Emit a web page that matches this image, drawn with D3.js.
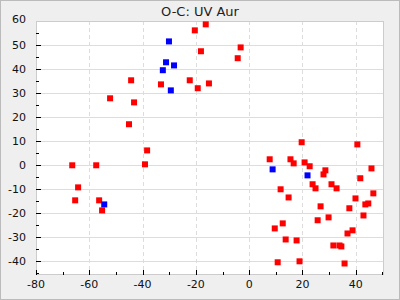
<!DOCTYPE html>
<html>
<head>
<meta charset="utf-8">
<script src="https://cdn.jsdelivr.net/npm/d3@7"></script>
<style>
  html, body { margin: 0; padding: 0; background: #efefef; }
  svg { display: block; font-family: "DejaVu Sans", sans-serif; }
</style>
</head>
<body>
<div id="chart"></div>
<script>
// O-C values, red series (primary)
const redX = [-16.3, -20.4, -18.1, -44.3, -33.1, -22.3, -15.1, -19.3, -52.2, -43.2, -45.1,
  -3.2, -4.3, -38.3, -66.4, -57.4, -39.1, -64.2, -65.3, -56.3, -55.2,
  19.7, 40.6, 7.7, 15.5, 16.7, 20.8, 22.7, 28.6, 27.9, 45.9, 41.7, 23.8, 30.9, 24.9, 32.8,
  11.8, 46.6, 14.8, 39.9, 43.6, 44.7, 26.8, 37.6, 42.9, 29.8, 25.7, 12.6, 9.6, 38.8, 36.9,
  13.7, 17.8, 31.6, 33.9, 34.6, 10.7, 18.9, 35.8]
const redY = [58.6, 56.1, 47.4, 35.3, 33.6, 35.3, 34.0, 32.0, 27.8, 26.1, 17.0,
  49.0, 44.5, 6.1, -0.1, -0.1, 0.3, -9.3, -14.7, -14.7, -18.9,
  9.5, 8.6, 2.4, 2.4, 0.7, 1.1, -0.5, -2.2, -3.9, -1.4, -5.5, -8.0, -8.0, -9.7, -9.7,
  -10.1, -11.8, -13.5, -13.9, -16.4, -16.0, -17.2, -18.0, -21.0, -21.8, -23.0, -24.3, -26.4, -27.2, -28.5,
  -31.0, -31.4, -33.5, -33.5, -33.9, -40.5, -40.1, -41.0]

// blue series (secondary)
const blueX = [-30.1, -31.2, -28.2, -32.4, -29.4, -54.4, 8.8, 21.9]
const blueY = [51.5, 42.8, 41.5, 39.5, 31.1, -16.4, -1.8, -4.3]

const xTicks = [-80, -60, -40, -20, 0, 20, 40]
const yTicks = [-40, -30, -20, -10, 0, 10, 20, 30, 40, 50, 60]
const title = 'O-C: UV Aur'

const W = 400, H = 300
const margin = { top: 21, right: 16, bottom: 25, left: 36 }
const width = W - margin.left - margin.right
const height = H - margin.top - margin.bottom

const svg = d3.select('#chart').append('svg')
    .attr('width', W)
    .attr('height', H)

svg.append('rect')
    .attr('x', 0.5).attr('y', 0.5)
    .attr('width', W - 1).attr('height', H - 1)
    .attr('fill', '#efefef')
    .attr('stroke', '#bbb')

svg.append('text')
    .attr('x', W / 2)
    .attr('y', 16)
    .attr('text-anchor', 'middle')
    .attr('font-size', 13)
    .attr('fill', '#222')
    .text(title)

const g = svg.append('g')
    .attr('transform', 'translate(' + margin.left + ',' + margin.top + ')')

const x = d3.scaleLinear().domain([-80, 50.6]).range([0, width])
const y = d3.scaleLinear().domain([-45.8, 60]).range([height, 0])

g.append('rect')
    .attr('width', width).attr('height', height)
    .attr('fill', 'white')

// grille
g.append('g')
    .selectAll('line')
    .data(yTicks.filter(d => d < 60))
    .enter().append('line')
    .attr('x1', 0).attr('x2', width)
    .attr('y1', d => Math.round(y(d)) + 0.5)
    .attr('y2', d => Math.round(y(d)) + 0.5)
    .attr('stroke', '#ddd')
    .attr('stroke-width', 1)

g.append('g')
    .selectAll('line')
    .data(xTicks.filter(d => d > -80))
    .enter().append('line')
    .attr('y1', 0).attr('y2', height)
    .attr('x1', d => Math.round(x(d)) + 0.5)
    .attr('x2', d => Math.round(x(d)) + 0.5)
    .attr('stroke', '#ddd')
    .attr('stroke-width', 1)
    .attr('stroke-dasharray', '4,3')

g.append('rect')
    .attr('x', 0.5).attr('y', 0.5)
    .attr('width', width - 1).attr('height', height - 1)
    .attr('fill', 'none')
    .attr('stroke', '#ccc')

// ticks inside
const xMinor = d3.range(-70, 51, 20)
const yMinor = d3.range(-45, 60, 10)

g.append('g').selectAll('line').data(xTicks).enter().append('line')
    .attr('x1', d => Math.round(x(d)) + 0.5).attr('x2', d => Math.round(x(d)) + 0.5)
    .attr('y1', height).attr('y2', height - 5)
    .attr('stroke', '#000')
g.append('g').selectAll('line').data(xMinor).enter().append('line')
    .attr('x1', d => Math.round(x(d)) + 0.5).attr('x2', d => Math.round(x(d)) + 0.5)
    .attr('y1', height).attr('y2', height - 3)
    .attr('stroke', '#000')
g.append('g').selectAll('line').data(yTicks.filter(d => d < 60)).enter().append('line')
    .attr('y1', d => Math.round(y(d)) + 0.5).attr('y2', d => Math.round(y(d)) + 0.5)
    .attr('x1', 0).attr('x2', 5)
    .attr('stroke', '#000')
g.append('g').selectAll('line').data(yMinor).enter().append('line')
    .attr('y1', d => Math.round(y(d)) + 0.5).attr('y2', d => Math.round(y(d)) + 0.5)
    .attr('x1', 0).attr('x2', 3)
    .attr('stroke', '#000')

// labels
g.append('g').selectAll('text').data(xTicks).enter().append('text')
    .attr('x', d => x(d))
    .attr('y', height + 13)
    .attr('text-anchor', 'middle')
    .attr('font-size', 11)
    .attr('fill', '#111')
    .text(d => d)

g.append('g').selectAll('text').data(yTicks).enter().append('text')
    .attr('x', -10)
    .attr('y', d => y(d) + (d == 60 ? 2 : 4))
    .attr('text-anchor', 'end')
    .attr('font-size', 11)
    .attr('fill', '#111')
    .text(d => d)

// points
const s = 6
g.append('g').selectAll('rect')
    .data(redX.map((v, i) => [v, redY[i]]))
    .enter().append('rect')
    .attr('x', d => x(d[0]) - s / 2)
    .attr('y', d => y(d[1]) - s / 2)
    .attr('width', s).attr('height', s)
    .attr('fill', '#ff0000')

g.append('g').selectAll('rect')
    .data(blueX.map((v, i) => [v, blueY[i]]))
    .enter().append('rect')
    .attr('x', d => x(d[0]) - s / 2)
    .attr('y', d => y(d[1]) - s / 2)
    .attr('width', s).attr('height', s)
    .attr('fill', '#0000ff')
</script>
</body>
</html>
